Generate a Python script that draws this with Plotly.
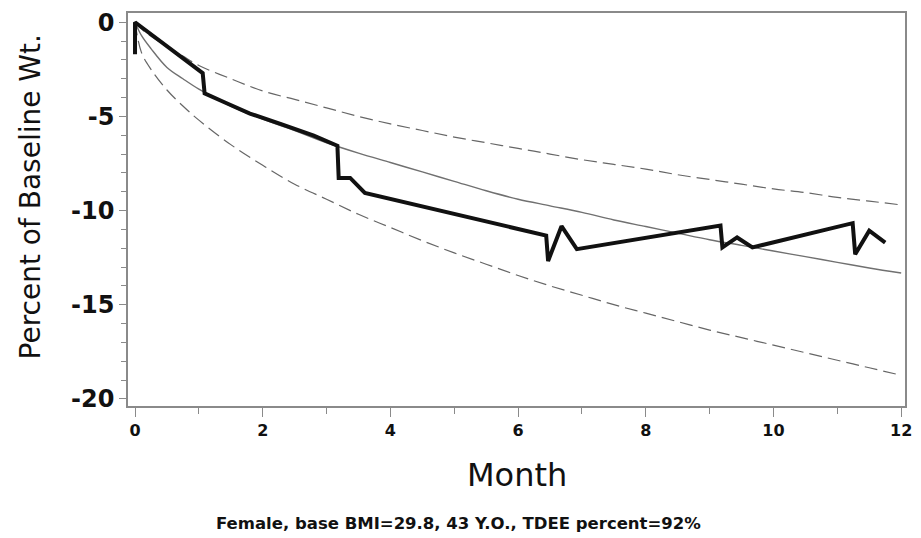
import plotly.graph_objects as go

# Observed weights (thick line)
obs_month = [0, 0, 1.06, 1.09, 1.4, 1.8, 2.3, 2.8, 3.17, 3.19, 3.37, 3.6, 6.44, 6.47, 6.68, 6.92,
             9.17, 9.2, 9.43, 9.67, 11.24, 11.28, 11.5, 11.75]
obs_pct = [-1.7, 0, -2.7, -3.78, -4.25, -4.85, -5.42, -6.02, -6.56, -8.27, -8.27, -9.06, -11.33, -12.68,
           -10.83, -12.05, -10.8, -11.96, -11.43, -11.96, -10.67, -12.32, -11.07, -11.7]

# Model predictions
model_month = [0, 0.1, 0.25, 0.5, 0.75, 1, 1.5, 2, 2.5, 3, 3.5, 4, 4.5, 5, 5.5, 6, 6.5, 7, 7.5, 8,
               8.5, 9, 9.5, 10, 10.5, 11, 11.5, 12]
model_mean = [0, -0.7, -1.4, -2.4, -3.0, -3.55, -4.45, -5.15, -5.75, -6.4, -6.95, -7.45, -7.95, -8.45,
              -8.95, -9.4, -9.75, -10.1, -10.5, -10.85, -11.2, -11.55, -11.85, -12.15, -12.45, -12.75,
              -13.05, -13.32]
model_upper = [0, -0.35, -0.75, -1.3, -1.8, -2.3, -3.0, -3.65, -4.1, -4.55, -5.0, -5.4, -5.75, -6.1,
               -6.4, -6.7, -7.0, -7.3, -7.55, -7.8, -8.1, -8.35, -8.6, -8.85, -9.05, -9.3, -9.5, -9.7]
model_lower = [0, -1.6, -2.5, -3.6, -4.45, -5.2, -6.5, -7.6, -8.6, -9.4, -10.2, -10.9, -11.6, -12.25,
               -12.85, -13.45, -14.0, -14.5, -15.0, -15.45, -15.9, -16.35, -16.75, -17.15, -17.55,
               -17.95, -18.35, -18.75]

x_ticks = [0, 2, 4, 6, 8, 10, 12]
y_ticks = [0, -5, -10, -15, -20]
y_ticktext = ["0", "-5", "-10", "-15", "-20"]

fig = go.Figure()
fig.add_trace(go.Scatter(x=model_month, y=model_upper, mode="lines", line_shape="spline",
                         line=dict(color="#666666", width=1.2, dash="13px,6px"), showlegend=False))
fig.add_trace(go.Scatter(x=model_month, y=model_lower, mode="lines", line_shape="spline",
                         line=dict(color="#666666", width=1.2, dash="13px,6px"), showlegend=False))
fig.add_trace(go.Scatter(x=model_month, y=model_mean, mode="lines", line_shape="spline",
                         line=dict(color="#707070", width=1.4), showlegend=False))
fig.add_trace(go.Scatter(x=obs_month, y=obs_pct, mode="lines",
                         line=dict(color="#111111", width=4), showlegend=False))

axis_common = dict(showline=True, linecolor="#8a8a8a", linewidth=1.5, mirror=True,
                   showgrid=False, zeroline=False, ticks="outside", tickcolor="#8a8a8a")

fig.update_xaxes(range=[-0.11, 12.06], tickvals=x_ticks, ticklen=9, tickwidth=1.2,
                 tickfont=dict(family="DejaVu Sans", size=16, color="#111", weight="bold"),
                 minor=dict(dtick=1, tick0=0, ticks="outside", ticklen=6, tickcolor="#8a8a8a"),
                 **axis_common)
fig.update_yaxes(range=[-20.38, 0.49], tickvals=y_ticks, ticktext=y_ticktext, ticklen=7, tickwidth=1.2,
                 tickfont=dict(family="DejaVu Sans", size=24, color="#111", weight="bold"),
                 minor=dict(dtick=1, tick0=0, ticks="outside", ticklen=5, tickcolor="#8a8a8a"),
                 **axis_common)

fig.update_layout(
    width=921, height=538,
    margin=dict(l=128, r=14, t=9, b=132),
    plot_bgcolor="white", paper_bgcolor="white",
    annotations=[
        dict(text="Percent of Baseline Wt.", xref="paper", yref="paper", x=-0.126, y=0.531,
             xanchor="center", yanchor="middle", textangle=-90, showarrow=False,
             font=dict(family="DejaVu Sans", size=28, color="#111")),
        dict(text="Month", xref="paper", yref="paper", x=0.5, y=-0.176,
             xanchor="center", yanchor="middle", showarrow=False,
             font=dict(family="DejaVu Sans", size=32, color="#111")),
        dict(text="<b>Female, base BMI=29.8, 43 Y.O., TDEE percent=92%</b>", xref="paper", yref="paper",
             x=0.425, y=-0.30, xanchor="center", yanchor="middle", showarrow=False,
             font=dict(family="DejaVu Sans", size=16.5, color="#111")),
    ],
)

fig.write_html("out.html")
